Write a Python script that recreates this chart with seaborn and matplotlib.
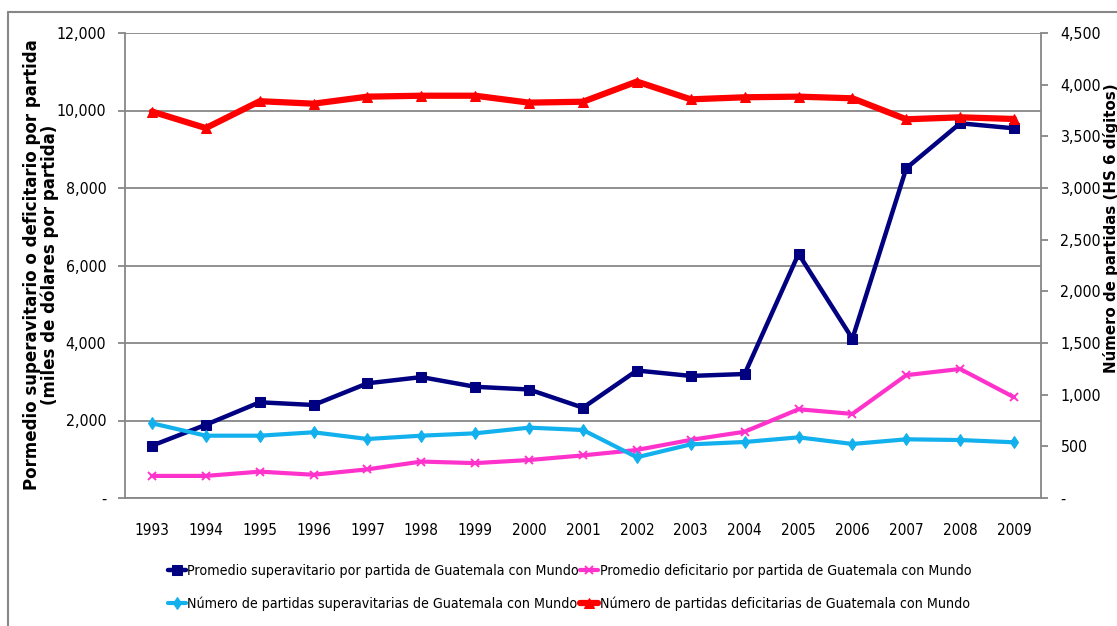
import numpy as np
import pandas as pd
import matplotlib
matplotlib.use("Agg")
import matplotlib.pyplot as plt
from matplotlib import font_manager
from matplotlib.lines import Line2D
from matplotlib.ticker import FuncFormatter, FixedLocator
import seaborn as sns

years = ["1993", "1994", "1995", "1996", "1997", "1998", "1999", "2000", "2001",
         "2002", "2003", "2004", "2005", "2006", "2007", "2008", "2009"]
prom_superavit = [1350, 1890, 2470, 2400, 2960, 3120, 2870, 2800, 2330,
                  3290, 3150, 3200, 6300, 4110, 8510, 9670, 9540]
prom_deficit = [570, 570, 680, 600, 740, 940, 900, 980, 1100,
                1240, 1500, 1710, 2290, 2170, 3170, 3330, 2600]
num_superavit = [723, 603, 603, 636, 571, 603, 626, 681, 658,
                 394, 519, 542, 587, 523, 568, 561, 539]
num_deficit = [3740, 3580, 3840, 3816, 3884, 3893, 3893, 3826, 3835,
               4030, 3858, 3878, 3884, 3868, 3665, 3684, 3668]

labels = ["Promedio superavitario por partida de Guatemala con Mundo",
          "Promedio deficitario por partida de Guatemala con Mundo",
          "Número de partidas superavitarias de Guatemala con Mundo",
          "Número de partidas deficitarias de Guatemala con Mundo"]
left_label = "Pormedio superavitario o deficitario por partida\n(miles de dólares por partida)"
right_label = "Número de partidas (HS 6 dígitos)"

sns.set_style("white")

# look for a condensed / narrow face to mimic the compressed original text
cond = None
for f in font_manager.fontManager.ttflist:
    st = f.stretch
    is_cond = ("Narrow" in f.name or "Condensed" in f.name or
               (isinstance(st, str) and "condensed" in st) or
               (isinstance(st, (int, float)) and st < 500))
    if is_cond and f.weight in ("normal", 400, "regular", "book"):
        cond = f
        break

if cond is not None:
    base_family = [cond.name, "DejaVu Sans"]
    stretch = cond.stretch
    s_tick, s_x, s_leg = 11.4, 11.0, 10.2
else:
    base_family = ["Liberation Sans", "DejaVu Sans"]
    stretch = "normal"
    s_tick, s_x, s_leg = 10.0, 9.8, 9.1

plt.rcParams["font.family"] = base_family
plt.rcParams["font.stretch"] = stretch
plt.rcParams["text.color"] = "black"

pos = np.arange(len(years))
df = pd.DataFrame({"pos": pos, "ps": prom_superavit, "pd": prom_deficit,
                   "ns": num_superavit, "nd": num_deficit})

fig = plt.figure(figsize=(11.17, 6.26), dpi=100)
ax = fig.add_axes([125/1117, 1-498/626, (1041-125)/1117, (498-33)/626])
ax2 = ax.twinx()

navy = "#000080"
pink = "#FF33CC"
cyan = "#12B0EC"
red = "#FF0000"

sns.lineplot(data=df, x="pos", y="ps", ax=ax, color=navy, lw=3.2, marker="s",
             markersize=7, markeredgecolor=navy, zorder=4)
sns.lineplot(data=df, x="pos", y="pd", ax=ax, color=pink, lw=3.0, marker="x",
             markersize=6, markeredgewidth=1.4, markeredgecolor=pink, zorder=3)
sns.lineplot(data=df, x="pos", y="ns", ax=ax2, color=cyan, lw=3.0, marker="d",
             markersize=6, markeredgecolor=cyan, zorder=3)
sns.lineplot(data=df, x="pos", y="nd", ax=ax2, color=red, lw=4.5, marker="^",
             markersize=7, markeredgecolor=red, zorder=3)

ax.set_xlim(-0.5, len(years) - 0.5)
ax.set_ylim(0, 12000)
ax2.set_ylim(0, 4500)
ax.set_yticks(np.arange(0, 12001, 2000))
ax2.set_yticks(np.arange(0, 4501, 500))

fmt = FuncFormatter(lambda v, p: "-" if v == 0 else f"{v:,.0f}")
ax.yaxis.set_major_formatter(fmt)
ax2.yaxis.set_major_formatter(fmt)

ax.set_xticks(pos)
ax.set_xticklabels(years)
ax.xaxis.set_minor_locator(FixedLocator(np.arange(-0.5, len(years), 1.0)))

gray = "#878787"
ax.grid(axis="y", color=gray, lw=1.3)
ax.set_axisbelow(True)
for a in (ax, ax2):
    for s in a.spines.values():
        s.set_visible(False)
ax.spines["left"].set_visible(True)
ax.spines["bottom"].set_visible(True)
ax2.spines["right"].set_visible(True)
for sp in (ax.spines["left"], ax.spines["bottom"], ax2.spines["right"]):
    sp.set_color(gray)
    sp.set_linewidth(1.3)

ax.tick_params(axis="x", which="major", length=0, pad=18, labelsize=s_x, colors="black")
ax.tick_params(axis="x", which="minor", length=6, width=1.3, color=gray, direction="out")
ax.tick_params(axis="y", length=5, width=1.3, color=gray, pad=8.5, labelsize=s_tick,
               labelcolor="black", left=True)
ax2.tick_params(axis="y", length=5, width=1.3, color=gray, pad=9, labelsize=s_tick,
                labelcolor="black", right=True)

ax.set_xlabel("")
ax.set_ylabel("")
ax2.set_ylabel("")

fig.text(41/1117, 1-265/626, left_label, rotation=90, ha="center", va="center",
         fontsize=12, fontweight="bold", family="DejaVu Sans", stretch="normal",
         linespacing=0.98, color="black")
fig.text(1111/1117, 1-228/626, right_label, rotation=90, ha="center", va="center",
         fontsize=10.8, fontweight="bold", family="DejaVu Sans", stretch="normal",
         color="black")

h = ax.get_lines()[:2] + ax2.get_lines()[:2]
handles = [Line2D([], [], color=l.get_color(), lw=l.get_linewidth(), marker=l.get_marker(),
                  markersize=l.get_markersize(), markeredgecolor=l.get_color(),
                  markeredgewidth=l.get_markeredgewidth()) for l in h]
order = [0, 2, 1, 3]
fig.legend([handles[i] for i in order], [labels[i] for i in order], ncol=2,
           loc="upper left", bbox_to_anchor=(161/1117, 1-557/626), frameon=False,
           fontsize=s_leg, borderpad=0, handlelength=1.25, handletextpad=0.1,
           columnspacing=0.1, labelspacing=1.3)

fig.add_artist(Line2D([8/1117, 1.0], [1-12/626, 1-12/626], transform=fig.transFigure,
                      color=gray, lw=1.5))
fig.add_artist(Line2D([8/1117, 8/1117], [0, 1-12/626], transform=fig.transFigure,
                      color=gray, lw=1.5))

fig.savefig("out.png", dpi=100, facecolor="white")
